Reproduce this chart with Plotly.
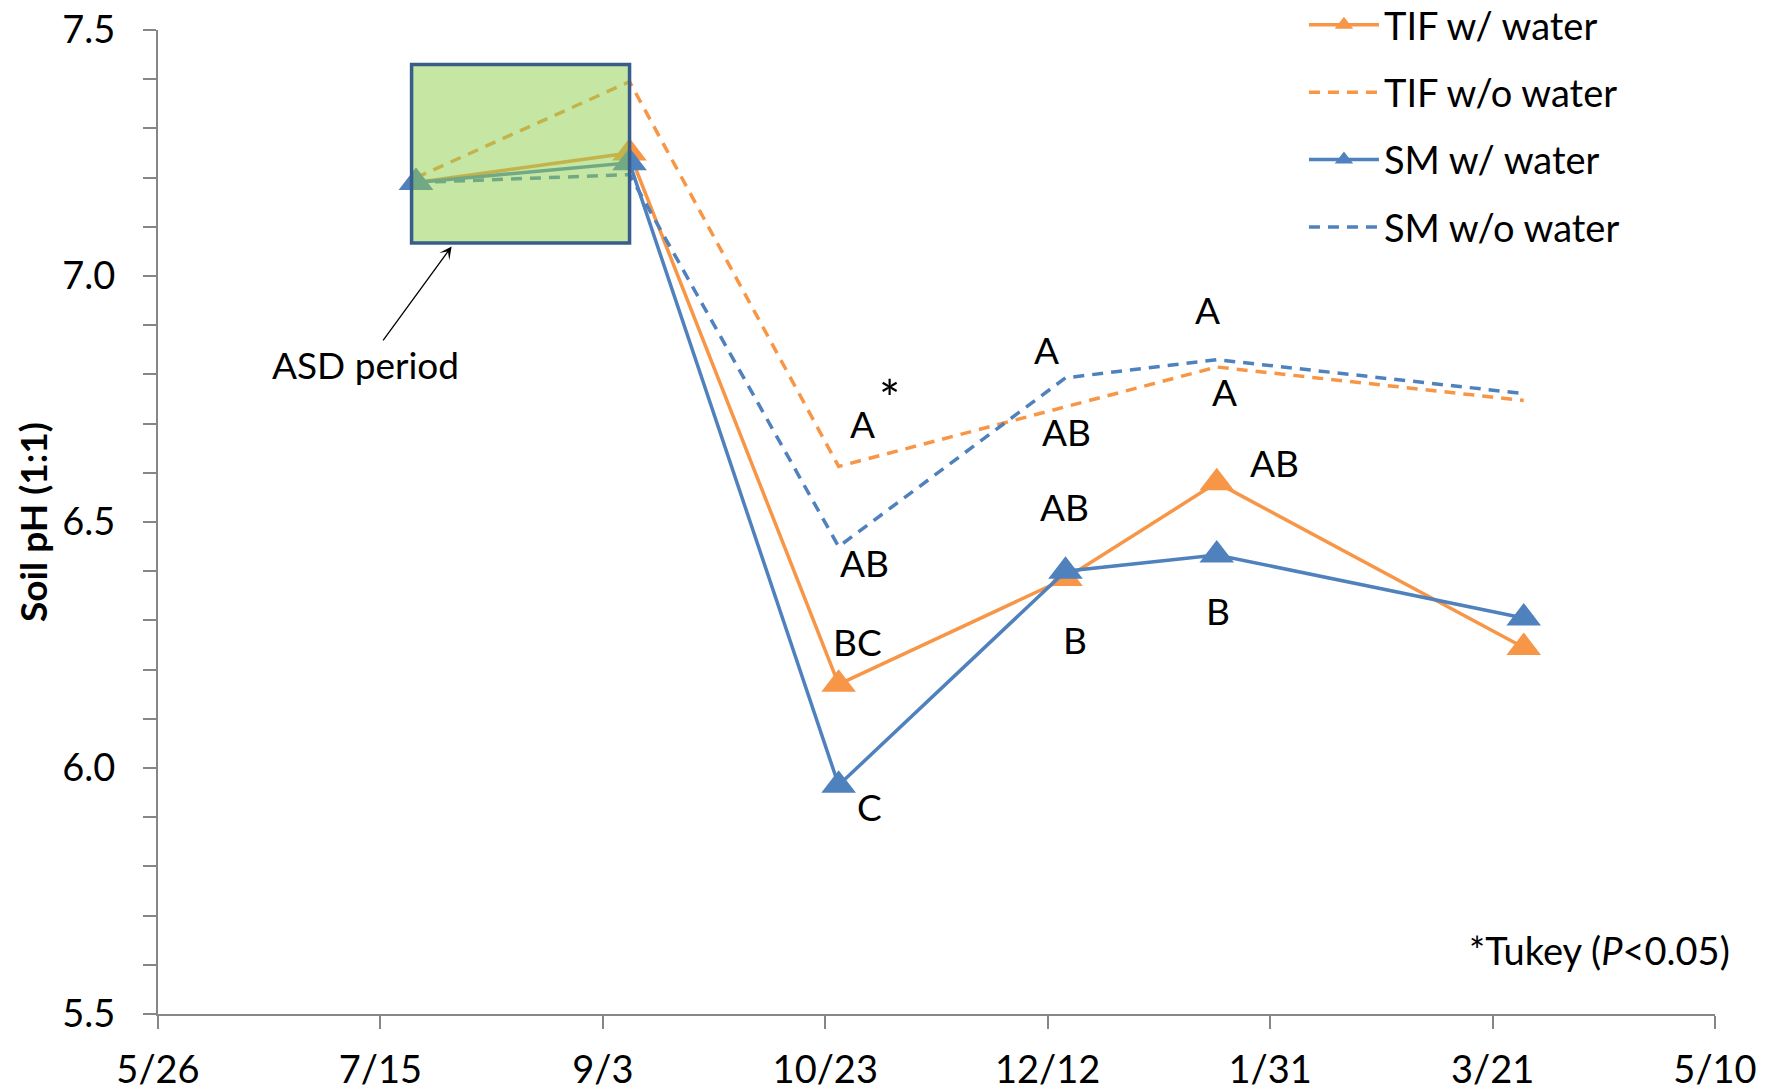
import plotly.graph_objects as go

# Sampling dates and soil pH (1:1) means per treatment
dates = ["2011-07-23", "2011-09-09", "2011-10-26", "2011-12-16", "2012-01-19", "2012-03-28"]

tif_with_water = [7.19, 7.25, 6.17, 6.385, 6.58, 6.245]
tif_without_water = [7.20, 7.395, 6.613, 6.735, 6.815, 6.747]
sm_with_water = [7.19, 7.23, 5.965, 6.40, 6.433, 6.305]
sm_without_water = [7.19, 7.206, 6.45, 6.793, 6.83, 6.761]

series_names = ["TIF w/ water", "TIF w/o water", "SM w/ water", "SM w/o water"]

x_tick_dates = ["2011-05-26", "2011-07-15", "2011-09-03", "2011-10-23",
                "2011-12-12", "2012-01-31", "2012-03-21", "2012-05-10"]
x_tick_labels = ["5/26", "7/15", "9/3", "10/23", "12/12", "1/31", "3/21", "5/10"]
y_tick_values = [5.5, 6.0, 6.5, 7.0, 7.5]
y_tick_labels = ["5.5", "6.0", "6.5", "7.0", "7.5"]

# Tukey grouping letters: (series index, date index, letter)
letter_series = [1, 1, 3, 0, 2, 3, 1, 0, 2, 3, 1, 0, 2]
letter_point = [2, 2, 2, 2, 2, 3, 3, 3, 3, 4, 4, 4, 4]
letter_text = ["A", "*", "AB", "BC", "C", "A", "AB", "AB", "B", "A", "A", "AB", "B"]
# pixel offsets of each letter from its point (right, up)
letter_dx = [24, 51, 26, 19, 31, -19, 1, -1, 9, -9, 8, 58, 1]
letter_dy = [43, 68, -16, 43, -21, 28, -25, 72, -68, 50, -24, 20, -56]
letter_size = [37, 50, 37, 37, 37, 37, 37, 37, 37, 37, 37, 37, 37]

ORANGE = "#F79646"
BLUE = "#4F81BD"
AXIS_GREY = "#868686"
FONT = "Lato, Calibri, Carlito, sans-serif"
FS = 38

values = [tif_with_water, tif_without_water, sm_with_water, sm_without_water]
colors = [ORANGE, ORANGE, BLUE, BLUE]
dashed = [False, True, False, True]

fig = go.Figure()
for i, name in enumerate(series_names):
    line = dict(color=colors[i], width=3.5)
    if dashed[i]:
        line["dash"] = "11px,8px"
        fig.add_trace(go.Scatter(x=dates, y=values[i], name=name, mode="lines",
                                 line=line, legendgroup=name))
    else:
        fig.add_trace(go.Scatter(x=dates, y=values[i], name=name, mode="lines+markers",
                                 line=line, legendgroup=name,
                                 marker=dict(symbol="triangle-up", size=30, color=colors[i])))

# ASD period highlight box (drawn over the lines, semi-transparent)
fig.add_shape(type="rect", xref="x", yref="y",
              x0="2011-07-22", x1="2011-09-09", y0=7.067, y1=7.43,
              fillcolor="rgba(146,208,80,0.52)",
              line=dict(color="#385D8A", width=3.5), layer="above")

annotations = [
    dict(x="2011-07-31", y=7.06, xref="x", yref="y", text="ASD period",
         showarrow=True, arrowhead=3, arrowsize=1.6, arrowwidth=1.3, arrowcolor="#000",
         ax=-86, ay=118, font=dict(size=37, family=FONT, color="#000")),
    dict(x=1.0108, y=0.0653, xref="paper", yref="paper", xanchor="right", yanchor="middle",
         text="*Tukey (<i>P</i>&lt;0.05)", showarrow=False,
         font=dict(size=FS, family=FONT, color="#000")),
]
for s, p, t, dx, dy, fs in zip(letter_series, letter_point, letter_text,
                               letter_dx, letter_dy, letter_size):
    annotations.append(dict(x=dates[p], y=values[s][p], xref="x", yref="y", text=t,
                            showarrow=False, xshift=dx, yshift=dy,
                            font=dict(size=fs, family=FONT, color="#000")))

fig.update_layout(
    width=1776, height=1090,
    margin=dict(l=158, r=61, t=30, b=76, autoexpand=False),
    plot_bgcolor="white", paper_bgcolor="white",
    font=dict(family=FONT, size=FS, color="#000"),
    showlegend=True,
    legend=dict(x=0.736, y=1.037, xanchor="left", yanchor="top",
                bgcolor="rgba(0,0,0,0)", itemwidth=70, tracegroupgap=15,
                font=dict(size=FS, family=FONT, color="#000")),
    annotations=annotations,
)
fig.update_xaxes(type="date", range=["2011-05-26", "2012-05-10"],
                 tickmode="array", tickvals=x_tick_dates, ticktext=x_tick_labels,
                 ticks="outside", ticklen=13, tickwidth=2, tickcolor=AXIS_GREY,
                 showline=True, linecolor=AXIS_GREY, linewidth=2,
                 showgrid=False, zeroline=False, ticklabelstandoff=8,
                 tickfont=dict(size=FS, family=FONT, color="#000"))
fig.update_yaxes(range=[5.5, 7.5], tickmode="array", tickvals=y_tick_values, ticktext=y_tick_labels,
                 ticks="outside", ticklen=13, tickwidth=2, tickcolor=AXIS_GREY,
                 minor=dict(dtick=0.1, tick0=5.5, ticks="outside", ticklen=13, tickwidth=2,
                            tickcolor=AXIS_GREY, showgrid=False),
                 showline=True, linecolor=AXIS_GREY, linewidth=2,
                 showgrid=False, zeroline=False, ticklabelstandoff=20,
                 tickfont=dict(size=FS, family=FONT, color="#000"),
                 title=dict(text="<b>Soil pH (1:1)</b>", standoff=3,
                            font=dict(size=37, family=FONT, color="#000")))

fig.write_html("out.html")
